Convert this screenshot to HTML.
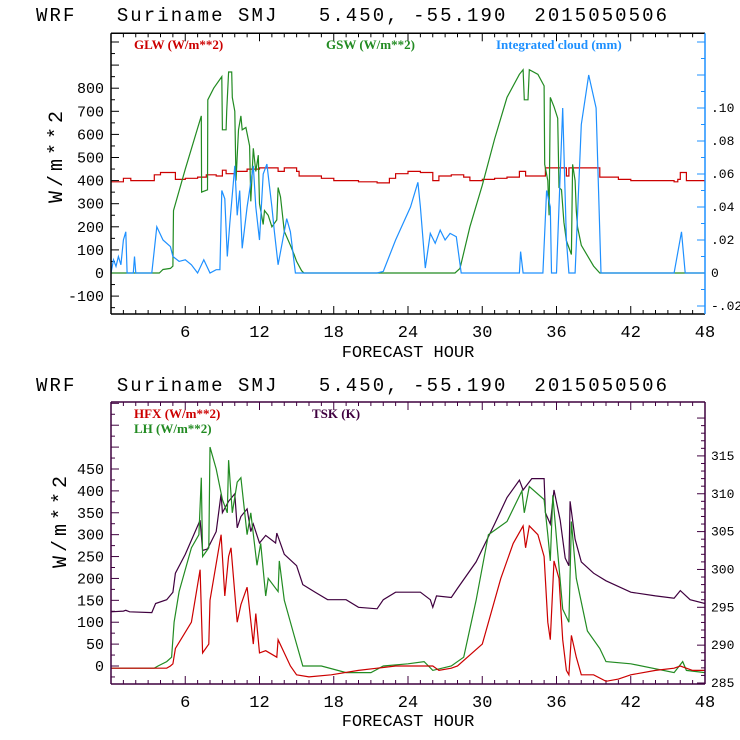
<!DOCTYPE html>
<html><head><meta charset="utf-8"><style>
html,body{margin:0;padding:0;background:#fff;width:740px;height:740px;overflow:hidden}
svg{display:block}
text{font-family:"Liberation Mono",monospace}
.lg{font-family:"Liberation Serif",serif;font-weight:bold;font-size:13px}
</style></head><body>
<svg id="c" width="740" height="740"></svg>
<script>
// ---- Top panel data ----
const xTicks=[6,12,18,24,30,36,42,48];
const topLeftTicks=[-100,0,100,200,300,400,500,600,700,800];
const topRightTicks=[-0.02,0,0.02,0.04,0.06,0.08,0.10];
const topRightLabels=["-.02","0",".02",".04",".06",".08",".10"];
const glwH=[0,1,1.6,3.2,3.5,4,4.9,5.2,6,7,7.7,8.5,9,9.3,10,11,12,13,13.5,14,15,15.2,17,18,20,21.5,22.5,23,24,25,26,26.5,27.5,28.5,29,30,31,32,33,33.5,35,35.1,36.8,37,39,39.5,41,42,45.5,45.8,46,46.5,48];
const glwV=[395,410,400,400,425,435,435,405,410,415,425,420,445,430,440,450,455,455,440,455,440,420,410,400,395,390,410,430,440,435,400,420,425,415,400,405,410,415,440,420,420,455,420,455,455,415,405,400,395,405,435,400,390];
const gswH=[0,3.9,4.2,4.8,5.0,5.05,6,7.3,7.32,7.8,7.82,8.3,8.95,9.0,9.3,9.35,9.5,9.75,9.8,10.0,10.1,10.3,10.5,10.6,10.9,11.2,11.3,11.5,11.7,11.9,12.0,12.3,12.4,12.7,13.0,13.4,13.5,13.7,14.0,14.5,14.8,15.0,15.4,15.6,27.8,28.2,29,30,31,32,33,33.3,33.4,33.7,33.8,34.5,35.0,35.05,35.3,35.4,35.5,35.8,36.1,36.2,36.4,36.6,36.8,37.2,37.3,37.5,37.6,37.7,38,39,39.5,48];
const gswV=[0,0,15,20,30,270,450,680,350,360,750,800,850,620,620,700,870,870,760,700,400,620,680,620,630,550,310,540,440,510,300,210,270,250,200,230,370,330,180,120,80,50,10,0,0,20,200,380,580,760,860,880,750,750,880,860,810,470,400,250,760,720,670,370,360,220,140,80,470,400,270,200,120,30,0,0];
const cldH=[0,0.2,0.4,0.6,0.8,1.0,1.2,1.3,1.8,1.9,2.0,3.3,3.7,4.2,4.8,5.0,5.5,6.0,6.5,7.0,7.5,8.0,8.5,8.8,8.95,9.2,9.4,9.6,10.0,10.2,10.4,10.6,11.0,11.5,11.7,12.0,12.3,12.6,13.0,13.2,13.5,14.2,14.5,14.9,21.5,22,23,24.2,24.8,25.0,25.4,25.8,26.2,26.6,27.0,27.4,27.9,28.3,33.0,33.1,33.3,34.9,35.2,35.5,35.6,36.0,36.5,36.8,37.0,37.5,38.0,38.6,39.2,39.6,45.5,46.1,46.4,48];
const cldV=[0,0.008,0.004,0.01,0.005,0.02,0.025,0,0,0.01,0,0,0.028,0.02,0.016,0.01,0.007,0.008,0.005,0,0.008,0,0.002,0.002,0.05,0.045,0.01,0.03,0.065,0.035,0.05,0.015,0.04,0.065,0.04,0.02,0.06,0.066,0.04,0.025,0.005,0.033,0.025,0,0,0.001,0.02,0.04,0.055,0.04,0.003,0.024,0.018,0.026,0.02,0.024,0.022,0,0,0.013,0,0,0.05,0.04,0,0,0.1,0.02,0,0,0.09,0.12,0.1,0,0,0.025,0,0];
// ---- Bottom panel data ----
const botLeftTicks=[0,50,100,150,200,250,300,350,400,450];
const botRightTicks=[285,290,295,300,305,310,315];
const hfxH=[0,4.5,4.8,5,5.2,6.5,7.2,7.4,7.9,8,8.9,9.2,9.5,9.7,10.2,10.5,11.0,11.5,11.7,12,12.5,13.4,13.5,14.5,15,16,17.8,20,21.5,23,26,26.5,27.5,28,30,31.5,32.5,33.3,33.5,33.8,34.5,35,35.3,35.5,35.8,36.2,36.5,36.8,37,37.2,37.6,38,39,40,41,42,44,45.5,46,47,48];
const hfxV=[-5,-5,0,5,40,100,220,30,50,150,300,160,250,270,100,140,180,50,120,30,35,20,60,0,-20,-25,-20,-10,-5,0,0,-10,-5,0,50,200,280,320,270,320,300,250,100,60,240,200,60,-10,-20,70,20,-20,-20,-35,-30,-20,-10,-5,0,-10,-10];
const lhH=[0,3.5,3.8,4.5,4.9,5.1,5.5,6.5,7.1,7.3,7.4,7.9,8.0,8.5,9.0,9.4,9.5,9.8,10.2,10.5,11.0,11.3,11.8,12.1,12.5,12.7,13.5,13.6,14,14.8,15.5,17,19,21,22,24,25.3,26,27.5,28.5,29.5,30.5,32,33.2,33.4,33.8,35.0,35.3,35.5,35.7,36.1,36.5,37,37.2,37.6,38.5,39.5,40,42,45.5,46.2,46.5,48];
const lhV=[-5,-5,0,10,20,100,170,270,300,430,250,270,500,450,380,350,470,350,420,430,300,350,230,280,160,200,170,240,150,70,0,0,-15,-15,0,5,10,-10,0,20,150,300,330,400,350,410,380,300,240,390,260,130,100,330,200,80,40,10,5,-15,10,-10,-15];
const tskH=[0,1,1.2,1.5,3.3,3.6,4.5,5.0,5.2,6.0,7.2,7.4,7.8,8.5,8.9,9.0,9.5,10,10.2,10.5,11.0,11.3,11.5,12.0,12.5,13.3,13.4,14.0,15,15.5,16.5,17.5,19,20,21.5,22,23,25,25.8,26.0,26.3,27.5,28,29.5,31,32,33,33.3,34,35,35.1,35.5,35.8,36.3,36.7,37,37.1,37.5,38,39,40,42,44,45.5,46,46.8,48];
const tskV=[294.4,294.5,294.6,294.4,294.3,295.5,296,297,299.5,302,306.5,302.5,302.7,305,310,307.5,309,310,305.5,307,308,305,306,303.5,304.5,303.5,304.8,302,300.5,298,297,296,296,295,294.8,296,297,297,296,295,296.5,296.3,297.5,301,306,309.5,311.8,310.5,312,312,307.5,306,310.5,306.5,301.5,300.5,309,304,301,299.5,298.5,297,296.5,296.2,297.2,296,295.5];

const NS="http://www.w3.org/2000/svg";
const svg=document.getElementById('c');
const X0=111,X1=705;
function xs(h){return X0+(X1-X0)*h/48;}
function el(tag,attrs,parent){const e=document.createElementNS(NS,tag);for(const k in attrs)e.setAttribute(k,attrs[k]);(parent||svg).appendChild(e);return e;}
function txt(s,x,y,size,anchor,fill,parent){const t=el('text',{x:x,y:y,'font-size':size,'text-anchor':anchor||'start',fill:fill||'#000'},parent);t.textContent=s;return t;}
function path(hs,vs,sc,color,parent,step){let d='';for(let i=0;i<hs.length;i++){const x=xs(hs[i]).toFixed(1),y=sc(vs[i]).toFixed(1);if(i===0)d+='M'+x+','+y;else{ if(step)d+='H'+x+'V'+y; else d+='L'+x+','+y;}}return el('path',{d:d,fill:'none',stroke:color,'stroke-width':1.2},parent);}

function panel(cfg){
  const g=el('g',{});
  
  
  const title=txt('WRF   Suriname SMJ   5.450, -55.190  2015050506',36,cfg.titleY,19,'start','#000',g);
  title.setAttribute('style','white-space:pre');
  title.setAttribute('textLength','631');
  
  
  const T=cfg.top,B=cfg.bot;
  const clip='clip'+cfg.id;
  const cp=el('clipPath',{id:clip},g);el('rect',{x:X0,y:T,width:X1-X0,height:B-T},cp);
  for(let h=1;h<48;h++){const x=xs(h),L=(h%6===0)?8:4;
    el('line',{x1:x,y1:B,x2:x,y2:B-L,stroke:cfg.boxColor,'stroke-width':1},g);
    el('line',{x1:x,y1:T,x2:x,y2:T+L,stroke:cfg.boxColor,'stroke-width':1},g);}
  xTicks.forEach(h=>{const t=txt(String(h),xs(h),cfg.xLabY,17,'middle','#000',g);
    });
  const xt=txt('FORECAST HOUR',408,cfg.xTitleY,17,'middle','#000',g);
  
  for(let v=cfg.lMin;v<=cfg.lMax;v+=cfg.lMinor){const y=cfg.ly(v);if(y<T||y>B)continue;
    const L=(Math.round(v/cfg.lMajor)*cfg.lMajor===v)?8:4;
    el('line',{x1:X0,y1:y,x2:X0+L,y2:y,stroke:cfg.boxColor,'stroke-width':1},g);}
  cfg.lTicks.forEach(v=>{const t=txt(String(v),104,cfg.ly(v)+5,15,'end','#000',g);
    });
  for(let v=cfg.rMin;v<=cfg.rMax+1e-9;v+=cfg.rMinor){const y=cfg.ry(v);if(y<T||y>B)continue;
    const q=v/cfg.rMajor;const L=Math.abs(q-Math.round(q))<1e-6?8:4;
    el('line',{x1:X1,y1:y,x2:X1-L,y2:y,stroke:cfg.rColor,'stroke-width':1},g);}
  cfg.rTicks.forEach((v,i)=>{const t=txt(cfg.rLabels?cfg.rLabels[i]:String(v),711,cfg.ry(v)+4,13,'start','#000',g);
    });
  const yt=txt('W/m**2',0,0,20,'middle','#000',g);
  yt.setAttribute('letter-spacing','4');
  yt.setAttribute('transform','translate('+cfg.yTitleX+','+cfg.yTitleY+') rotate(-90)');
  
  const sg=el('g',{'clip-path':'url(#'+clip+')'},g);
  cfg.series.forEach(s=>{const p=path(s.h,s.v,s.sc,s.c,sg,s.step);
    });
  cfg.legend.forEach(l=>{const t=txt(l.t,l.x,l.y,13,'start',l.c,g);t.setAttribute('class','lg');
    });
  el('line',{x1:X0,y1:T,x2:X1,y2:T,stroke:cfg.boxColor,'stroke-width':1.5},g);
  el('line',{x1:X0,y1:B,x2:X1,y2:B,stroke:cfg.boxColor,'stroke-width':1.5},g);
  el('line',{x1:X0,y1:T,x2:X0,y2:B,stroke:cfg.boxColor,'stroke-width':1.5},g);
  el('line',{x1:X1,y1:T,x2:X1,y2:B,stroke:cfg.rColor,'stroke-width':1.5},g);
}
const ly1=v=>273-v*0.231, ry1=v=>273-v*1650;
panel({id:1,name:'radiation-panel',titleY:21,top:33.3,bot:314,xLabY:337,xTitleY:357,boxColor:'#000',rColor:'#1e90ff',
  ly:ly1,lMin:-150,lMax:1000,lMinor:50,lMajor:100,lTicks:topLeftTicks,
  ry:ry1,rMin:-0.02,rMax:0.16,rMinor:0.01,rMajor:0.02,rTicks:topRightTicks,rLabels:topRightLabels,
  yTitleX:62,yTitleY:155,
  series:[{name:'glw-line',h:glwH,v:glwV,sc:ly1,c:'#cc0000',step:true},
          {name:'gsw-line',h:gswH,v:gswV,sc:ly1,c:'#228b22'},
          {name:'cloud-line',h:cldH,v:cldV,sc:ry1,c:'#1e90ff'}],
  legend:[{t:'GLW (W/m**2)',x:134,y:49,c:'#cc0000'},{t:'GSW (W/m**2)',x:326,y:49,c:'#228b22'},{t:'Integrated cloud (mm)',x:496,y:49,c:'#1e90ff'}]});
const ly2=v=>666-v*0.4378, ry2=v=>683-(v-285)*7.57;
panel({id:2,name:'flux-panel',titleY:391,top:402,bot:684,xLabY:707,xTitleY:726,boxColor:'#3f003f',rColor:'#3f003f',
  ly:ly2,lMin:-50,lMax:600,lMinor:25,lMajor:50,lTicks:botLeftTicks,
  ry:ry2,rMin:285,rMax:320,rMinor:1,rMajor:5,rTicks:botRightTicks,
  yTitleX:66,yTitleY:520,
  series:[{name:'tsk-line',h:tskH,v:tskV,sc:ry2,c:'#3f003f'},
          {name:'lh-line',h:lhH,v:lhV,sc:ly2,c:'#228b22'},
          {name:'hfx-line',h:hfxH,v:hfxV,sc:ly2,c:'#cc0000'}],
  legend:[{t:'HFX (W/m**2)',x:134,y:418,c:'#cc0000'},{t:'LH  (W/m**2)',x:134,y:433,c:'#228b22'},{t:'TSK (K)',x:312,y:418,c:'#3f003f'}]});
</script>
</body></html>
